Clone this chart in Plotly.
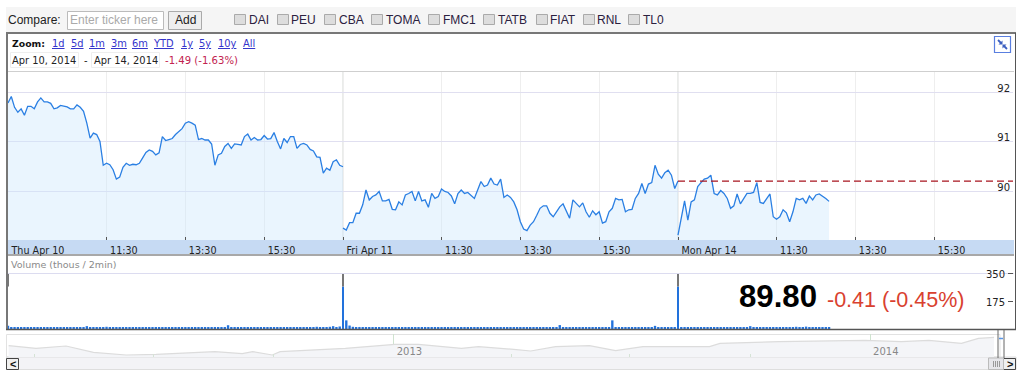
import plotly.graph_objects as go

# ---------- data ----------
STEP_MIN = 5
price_apr10 = [91.79,91.92,91.70,91.60,91.67,91.54,91.72,91.72,91.67,91.81,91.89,91.81,91.81,91.78,91.67,91.69,91.74,91.73,91.71,91.67,
 91.67,91.75,91.70,91.62,91.38,91.08,91.18,91.15,91.01,90.53,90.57,90.54,90.44,90.25,90.29,90.49,90.57,90.53,90.55,90.54,
 90.57,90.68,90.79,90.84,90.81,90.74,90.78,91.11,91.03,91.05,91.07,91.15,91.21,91.27,91.38,91.41,91.38,91.34,91.05,91.07,
 91.04,91.04,90.96,90.53,90.74,90.77,90.91,90.97,90.87,90.96,90.95,90.94,91.11,91.16,91.04,91.09,91.04,91.05,91.13,91.06,
 91.07,91.19,91.01,90.86,91.07,90.99,91.11,91.11,90.87,90.95,90.97,90.94,90.85,90.82,90.70,90.69,90.37,90.47,90.43,90.60,
 90.64,90.53,90.50]
price_apr11 = [89.26,89.22,89.37,89.37,89.56,89.56,89.73,90.03,89.83,89.90,89.93,90.00,89.81,89.81,89.84,89.64,89.63,89.79,89.73,89.93,
 89.96,90.00,89.81,90.00,89.81,89.83,89.68,89.96,89.86,89.90,90.05,90.00,89.98,89.91,89.75,89.96,90.03,89.96,89.98,89.91,
 89.86,90.03,90.20,90.10,90.13,90.27,90.15,90.13,90.25,89.88,89.93,89.88,89.79,89.63,89.39,89.24,89.21,89.32,89.39,89.52,
 89.66,89.71,89.71,89.56,89.49,89.59,89.69,89.75,89.59,89.46,89.83,89.76,89.69,89.77,89.59,89.48,89.61,89.53,89.59,89.36,
 89.39,89.59,89.66,89.86,89.83,89.84,89.59,89.63,89.64,89.86,89.96,90.16,89.96,90.15,90.18,90.53,90.35,90.27,90.38,90.43,
 90.33,90.06,90.21]
price_apr14 = [89.12,89.49,89.81,89.42,89.79,89.83,90.10,90.18,90.25,90.27,90.33,89.96,89.93,90.02,89.96,89.86,89.66,89.71,89.95,89.75,
 89.86,89.96,89.96,89.98,90.18,89.78,89.76,89.86,89.95,89.49,89.44,89.49,89.63,89.57,89.39,89.59,89.86,89.83,89.86,89.76,
 89.91,89.83,89.93,89.95,89.91,89.86,89.80]
prev_close = 90.21
session_starts = [0, 510, 1020]
session_end = 1530

volume_apr10 = [20,10,9,8,10,9,8,9,9,8,8,9,10,9,8,8,9,9,8,9,9,10,8,8,18,9,10,9,9,11,14,10,12,9,9,10,9,8,8,9,
 9,8,8,9,8,9,8,9,8,8,9,10,9,9,8,9,8,8,9,9,8,9,8,8,9,10,12,24,9,9,8,8,9,8,9,8,9,8,8,9,
 9,8,9,8,8,9,8,9,10,9,8,8,9,12,14,10,10,9,14,18,12,16]
volume_apr11 = [270,55,22,14,12,13,11,10,12,9,9,10,9,8,9,8,9,9,8,10,9,9,8,9,10,9,11,10,9,8,9,9,8,9,10,9,8,9,9,8,
 9,9,8,10,12,9,8,9,10,9,9,8,9,9,8,9,9,8,8,9,9,8,9,9,8,9,25,10,9,9,8,9,8,9,9,8,8,9,8,10,
 9,9,55,12,9,8,9,9,8,9,9,10,8,9,12,20,9,8,9,10,9,8]
volume_apr14 = [270,9,8,9,10,9,8,9,9,8,9,10,9,8,9,9,8,9,9,10,9,8,18,12,9,8,9,9,10,9,8,9,9,10,12,9,14,10,9,15,
 10,9,8,9,8,8,7]
volume_open_caps = [80, 80, 80]
volume_cap_base = [270, 270, 270]

nav_dates = ["2012-03-12","2012-04-02","2012-04-25","2012-05-16","2012-06-10","2012-07-03","2012-08-17","2012-09-07","2012-09-15","2012-09-30",
 "2012-10-06","2012-11-05","2012-11-25","2013-01-02","2013-01-20","2013-02-22","2013-03-07","2013-04-03","2013-04-16","2013-05-05",
 "2013-05-31","2013-06-20","2013-07-11","2013-08-31","2013-09-08","2013-10-23","2013-12-01","2013-12-28","2014-01-25","2014-02-15",
 "2014-03-12","2014-03-25","2014-04-06"]
nav_price = [82.3,79.9,82.0,76.3,73.9,74.5,76.9,75.1,76.9,73.9,76.9,78.4,79.9,83.5,83.5,79.9,81.4,79.0,77.5,81.4,
 82.3,77.8,81.4,81.4,84.4,85.9,86.5,87.1,85.9,87.1,84.4,88.9,89.8]
nav_quarters = ["2012-04-01","2012-07-01","2012-10-01","2013-04-01","2013-07-01","2013-10-01"]

x_tickvals = [0,150,270,390,510,660,780,900,1020,1170,1290,1410]
x_ticktext = ["Thu Apr 10","11:30","13:30","15:30","Fri Apr 11","11:30","13:30","15:30","Mon Apr 14","11:30","13:30","15:30"]
tickers = [("DAI",234,249),("PEU",277,291),("CBA",324,339),("TOMA",371,386),("FMC1",428,443),
           ("TATB",483,498),("FIAT",536,550),("RNL",583,597),("TL0",628,643)]
zoom_links = [("1d",52),("5d",71),("1m",89),("3m",111),("6m",132),("YTD",153),("1y",181),("5y",199),("10y",218),("All",243)]

# ---------- helpers (page furniture, in pixels) ----------
W, H = 1024, 373
def px(x): return x / W
def py(y): return 1 - y / H
shapes, notes = [], []
def rect(x0, y0, x1, y1, fill=None, line=None, lw=1, layer="below"):
    shapes.append(dict(type="rect", xref="paper", yref="paper", x0=px(x0), x1=px(x1), y0=py(y0), y1=py(y1),
                       fillcolor=fill or "rgba(0,0,0,0)", line=dict(color=line or "rgba(0,0,0,0)", width=lw if line else 0), layer=layer))
def seg(x0, y0, x1, y1, color, lw=1, layer="below"):
    shapes.append(dict(type="line", xref="paper", yref="paper", x0=px(x0), x1=px(x1), y0=py(y0), y1=py(y1),
                       line=dict(color=color, width=lw), layer=layer))
def tri(p, color):
    d = "M" + " L".join("%f,%f" % (px(a), py(b)) for a, b in p) + " Z"
    shapes.append(dict(type="path", xref="paper", yref="paper", path=d, fillcolor=color, line=dict(width=0), layer="above"))
ARIAL, VERD = "Liberation Sans", "DejaVu Sans"
def text(x, y, s, size=12, color="#333", family=ARIAL, anchor="left"):
    notes.append(dict(xref="paper", yref="paper", x=px(x), y=py(y), text=s, showarrow=False, xanchor=anchor, yanchor="middle",
                      font=dict(size=size, color=color, family=family), borderpad=0, borderwidth=0))

# toolbar
rect(6, 7, 1016, 32, fill="#f5f5f5")
text(8, 20, "Compare:", 12, "#222")
rect(67.5, 11.5, 163.5, 29.5, fill="#fff", line="#bbb")
text(70, 20, "Enter ticker here", 12, "#aaa")
rect(168.5, 11.5, 201.5, 29.5, fill="#eee", line="#aaa")
text(185, 20, "Add", 12, "#222", anchor="center")
for name, bx, tx in tickers:
    shapes.append(dict(type="rect", xref="paper", yref="paper", x0=px(bx + .5), x1=px(bx + 11.5), y0=py(14.5), y1=py(24.5),
                       fillcolor="#ddd", line=dict(color="#aaa", width=1), layer="below"))
    text(tx, 19.5, name, 12, "#2b2140")

# main frame
rect(7, 33, 1015, 329, fill="#fff")
rect(8, 240, 1014, 254, fill="#c6daf3")
# navigator + scrollbar
rect(6.5, 334.5, 1000, 357, fill="#fff", line="#e2e2e2")
rect(6.5, 357, 1016, 369.5, fill="#f3f3f6", line="#dedede")
# frame lines
seg(8, 71.5, 1014, 71.5, "#cfcfcf")
seg(8, 255, 1014, 255, "#a8a8a8", 2)
seg(8, 273.5, 1014, 273.5, "#dcdcf0")
seg(6, 33, 1016, 33, "#777", 2, "above")
seg(7, 33, 7, 330, "#777", 2, "above")
seg(1015.5, 33, 1015.5, 330, "#555", 1, "above")
seg(6, 329.5, 1016, 329.5, "#555", 1.5, "above")

# header
text(12, 44, "<b>Zoom:</b>", 9.3, "#111", VERD)
for s, x in zoom_links:
    text(x, 44, "<u>%s</u>" % s, 9.9, "#3333cc", VERD)
rect(10.5, 52.5, 78.5, 67.5, line="#eee")
rect(91.5, 52.5, 159.5, 67.5, line="#eee")
text(12, 60, "Apr 10, 2014", 9.9, "#222", VERD)
text(84, 60, "-", 9.9, "#222", VERD)
text(94, 60, "Apr 14, 2014", 9.9, "#222", VERD)
text(165, 60, "-1.49 (-1.63%)", 10.1, "#c2224f", VERD)
# expand icon
shapes.append(dict(type="rect", xref="paper", yref="paper", x0=px(994.5), x1=px(1010.5), y0=py(36.5), y1=py(52.5),
                   line=dict(color="#5a7fe0", width=1.2), fillcolor="#fff", layer="above"))
seg(998, 40, 1001, 43, "#3c5fc0", 1.8, "above")
seg(1007, 49, 1004, 46, "#3c5fc0", 1.8, "above")
tri([(1002.5, 40.5), (1002.5, 44.5), (998.5, 44.5)], "#3c5fc0")
tri([(1002.5, 48.5), (1002.5, 44.5), (1006.5, 44.5)], "#3c5fc0")

text(11, 264, "Volume (thous / 2min)", 9.5, "#8a8a8a", VERD)
text(739, 296, "<b>89.80</b>", 31.2, "#000")
text(827, 300, "-0.41 (-0.45%)", 21.5, "#d9412f")

# scrollbar parts
rect(6.5, 358.5, 18.5, 369.5, fill="#f0f0f0", line="#444")
text(9.5, 364, "<b>&lt;</b>", 11, "#111")
rect(1003.5, 358.5, 1015.5, 369.5, fill="#f0f0f0", line="#444")
text(1006.5, 364, "<b>&gt;</b>", 11, "#111")
rect(988.5, 358, 1003.5, 369.5, fill="#e6e6ea", line="#bbb", layer="above")
for gx in (993, 995, 997, 999):
    seg(gx + .5, 361, gx + .5, 367, "#999", 1, "above")
seg(998, 330, 998, 358, "#666", 1, "above")
seg(1004, 330, 1004, 358, "#666", 1, "above")
seg(999, 338.5, 1003, 338.5, "#5a96e6", 1.5, "above")

# day boundaries in the price panel
for s in session_starts[1:]:
    shapes.append(dict(type="line", xref="x", yref="y domain", x0=s, x1=s, y0=0, y1=1, line=dict(color="#d4d8d4", width=1), layer="below"))

# ---------- traces ----------
LINE, FILL = "#2a7fe3", "rgba(205,230,252,0.42)"
fig = go.Figure()
for start, series in zip(session_starts, [price_apr10, price_apr11, price_apr14]):
    fig.add_trace(go.Scatter(x=[start + STEP_MIN * i for i in range(len(series))], y=series, mode="lines",
                             line=dict(color=LINE, width=1.3), fill="tozeroy", fillcolor=FILL, xaxis="x", yaxis="y"))
fig.add_trace(go.Scatter(x=[session_starts[2], session_end], y=[prev_close, prev_close], mode="lines",
                         line=dict(color="#a8141f", width=1.1, dash="7px,4px"), xaxis="x", yaxis="y"))
for start, series in zip(session_starts, [volume_apr10, volume_apr11, volume_apr14]):
    fig.add_trace(go.Bar(x=[start + STEP_MIN * i for i in range(len(series))], y=series,
                         width=[1.6 if v > 100 else 3.6 for v in series],
                         marker=dict(color="#2272dc", line=dict(width=0)), xaxis="x2", yaxis="y2"))
fig.add_trace(go.Bar(x=session_starts, y=volume_open_caps, base=volume_cap_base, width=1.6,
                     marker=dict(color="#777", line=dict(width=0)), xaxis="x2", yaxis="y2"))
fig.add_trace(go.Scatter(x=nav_dates, y=nav_price, mode="lines", line=dict(color="#dcdcdc", width=1.2),
                         fill="tozeroy", fillcolor="#f4f5f8", xaxis="x3", yaxis="y3"))

# ---------- layout ----------
fig.update_layout(
    width=W, height=H, margin=dict(l=0, r=0, t=0, b=0), showlegend=False, barmode="overlay",
    paper_bgcolor="#fff", plot_bgcolor="rgba(0,0,0,0)", shapes=shapes, annotations=notes, hovermode=False,
    xaxis=dict(domain=[px(8), px(1013)], range=[0, session_end], anchor="y", tickmode="array", tickvals=x_tickvals, ticktext=x_ticktext,
               ticks="inside", ticklen=3, tickcolor="#555", ticklabelposition="outside right", ticklabelshift=3, ticklabelstandoff=3,
               showgrid=True, gridcolor="#eeeeee", zeroline=False, showline=False,
               tickfont=dict(family=VERD, size=9.6, color="#222")),
    yaxis=dict(domain=[py(240), py(72)], range=[89.02, 92.414], side="right", anchor="x", tickmode="array", tickvals=[90, 91, 92],
               ticks="", ticklabelposition="inside", ticklabelshift=-4, ticklabelstandoff=0, showgrid=True, gridcolor="#e0dff0", zeroline=False,
               tickfont=dict(family=VERD, size=10, color="#222")),
    xaxis2=dict(domain=[px(8), px(1013)], range=[0, session_end], anchor="y2", showticklabels=False, ticks="", showgrid=False, zeroline=False),
    yaxis2=dict(domain=[py(329), py(267)], range=[0, 394.5], side="right", anchor="x2", tickmode="array", tickvals=[175, 350],
                ticks="inside", ticklen=5, tickcolor="#555", ticklabelposition="inside", ticklabelstandoff=2, ticklabelshift=1, showgrid=False, zeroline=False,
                tickfont=dict(family=VERD, size=10, color="#222")),
    xaxis3=dict(domain=[px(6), px(998)], range=["2012-03-10", "2014-04-09"], type="date", anchor="y3", tickmode="array",
                tickvals=["2013-01-01", "2014-01-01"], ticktext=["2013", "2014"], ticks="", ticklabelposition="inside right", ticklabelshift=3, ticklabelstandoff=-6,
                showgrid=True, gridcolor="#cfe3cf", zeroline=False, tickfont=dict(family=VERD, size=10, color="#888"),
                minor=dict(tickmode="array", tickvals=nav_quarters, ticks="inside", ticklen=3, tickcolor="#d5e3d5", showgrid=False)),
    yaxis3=dict(domain=[py(357), py(334)], range=[72.1, 92.8], anchor="x3", showticklabels=False, ticks="", showgrid=False, zeroline=False),
)
fig.write_html("out.html", config=dict(displayModeBar=False),
               post_script='document.body.style.margin="0";document.body.style.overflow="hidden";')
